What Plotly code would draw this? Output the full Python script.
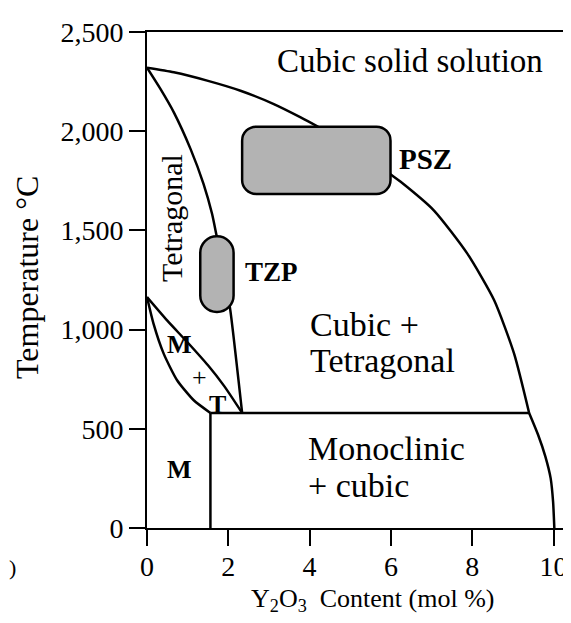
import plotly.graph_objects as go

# Y2O3 content (mol %) and temperature (deg C)
cubic_x = [0, 0.66, 1.48, 2.30, 3.12, 3.78, 4.19, 5.2, 6.03, 6.24, 7.06, 7.88, 8.54, 9.03, 9.40]
cubic_T = [2320, 2297, 2255, 2204, 2137, 2070, 2025, 1910, 1777, 1745, 1600, 1383, 1148, 879, 580]
cubic_low_x = [9.40, 9.62, 9.80, 9.93, 9.99, 10.02]
cubic_low_T = [580, 470, 360, 250, 130, 0]

tetra_x = [0, 0.33, 0.66, 1.07, 1.39, 1.60, 1.71, 1.90, 2.05, 2.34]
tetra_T = [2320, 2213, 2095, 1911, 1735, 1584, 1475, 1280, 1097, 580]

lens_up_x = [0, 0.5, 1.0, 1.5, 1.9, 2.34]
lens_up_T = [1164, 1045, 935, 820, 715, 580]
lens_low_x = [0, 0.16, 0.41, 0.74, 1.15, 1.56]
lens_low_T = [1164, 1030, 879, 745, 644, 580]

eutectoid_x = [1.56, 9.40]
eutectoid_T = [580, 580]
mono_x = [1.56, 1.56]
mono_T = [0, 580]

# ceramic regions (x span, temperature span)
psz_x = [2.34, 5.99]
psz_T = [1684, 2023]
tzp_x = [1.31, 2.13]
tzp_T = [1089, 1470]

x_ticks = [0, 2, 4, 6, 8, 10]
y_ticks = [0, 500, 1000, 1500, 2000, 2500]

# page has an 8px body margin, so the figure is drawn 8px in from the corner
OFF = 8
W, H = 571 - OFF, 623 - OFF
L, R, T, B = 147 - OFF, 0, 32 - OFF, 95
X_MAX = 10.43
PX_X = (W - L - R) / X_MAX
PX_Y = (H - T - B) / 2500

FONT = "Liberation Serif"


def page_to_paper(px, py):
    return (px - OFF - L) / (W - L - R), (H - B - (py - OFF)) / (H - T - B)


def rounded_box(xs, ys, r_px):
    x0, x1 = xs
    y0, y1 = ys
    rx, ry = r_px / PX_X, r_px / PX_Y
    k = 0.5523
    return (
        f"M {x0+rx},{y0} L {x1-rx},{y0} "
        f"C {x1-rx+k*rx},{y0} {x1},{y0+ry-k*ry} {x1},{y0+ry} "
        f"L {x1},{y1-ry} "
        f"C {x1},{y1-ry+k*ry} {x1-rx+k*rx},{y1} {x1-rx},{y1} "
        f"L {x0+rx},{y1} "
        f"C {x0+rx-k*rx},{y1} {x0},{y1-ry+k*ry} {x0},{y1-ry} "
        f"L {x0},{y0+ry} "
        f"C {x0},{y0+ry-k*ry} {x0+rx-k*rx},{y0} {x0+rx},{y0} Z"
    )


fig = go.Figure()

for xs, ys, shp in [
    (cubic_x, cubic_T, "spline"),
    (cubic_low_x, cubic_low_T, "spline"),
    (tetra_x, tetra_T, "spline"),
    (lens_up_x, lens_up_T, "spline"),
    (lens_low_x, lens_low_T, "spline"),
    (eutectoid_x, eutectoid_T, "linear"),
    (mono_x, mono_T, "linear"),
]:
    fig.add_trace(go.Scatter(x=xs, y=ys, mode="lines",
                             line=dict(color="black", width=2.5, shape=shp, smoothing=0.6),
                             hoverinfo="skip", showlegend=False))

for xs, ys, r in [(psz_x, psz_T, 14), (tzp_x, tzp_T, 16.5)]:
    fig.add_shape(type="path", path=rounded_box(xs, ys, r), xref="x", yref="y",
                  fillcolor="#b3b3b3", line=dict(color="black", width=2.5), layer="above")


def label(text, x, y, size=30, xanchor="left", angle=0):
    fig.add_annotation(text=text, x=x, y=y, xref="x", yref="y", showarrow=False,
                       xanchor=xanchor, yanchor="middle", textangle=angle,
                       font=dict(family=FONT, size=size, color="black"))


label("Cubic solid solution", 6.46, 2352, 33, "center")
label("<b>PSZ</b>", 6.16, 1862, 29)
label("<b>TZP</b>", 2.35, 1288, 27)
label("Tetragonal", 0.60, 1565, 30, "center", -90)
label("Cubic +", 3.97, 1027, 34)
label("Tetragonal", 3.97, 845, 34)
label("Monoclinic", 3.90, 403, 34)
label("+ cubic", 3.90, 216, 34)
label("<b>M</b>", 0.80, 926, 26, "center")
label("+", 1.29, 757, 26, "center")
label("<b>T</b>", 1.74, 624, 26, "center")
label("<b>M</b>", 0.80, 297, 26, "center")

tx, ty = page_to_paper(27, 278)
fig.add_annotation(text="Temperature &deg;C", xref="paper", yref="paper", x=tx, y=ty,
                   xanchor="center", yanchor="middle", textangle=-90, showarrow=False,
                   font=dict(family=FONT, size=32, color="black"))
tx, ty = page_to_paper(373, 600)
fig.add_annotation(text="Y<sub>2</sub>O<sub>3</sub>&nbsp;&nbsp;Content (mol %)",
                   xref="paper", yref="paper", x=tx, y=ty,
                   xanchor="center", yanchor="middle", showarrow=False,
                   font=dict(family=FONT, size=26, color="black"))
# sliver of a tick label cut off at the left edge of the original
tx, ty = page_to_paper(12, 567)
fig.add_annotation(text=")", xref="paper", yref="paper", x=tx, y=ty,
                   xanchor="center", yanchor="middle", showarrow=False,
                   font=dict(family=FONT, size=22, color="black"))

fig.update_layout(
    width=W, height=H,
    margin=dict(l=L, r=R, t=T, b=B),
    paper_bgcolor="white", plot_bgcolor="white",
    font=dict(family=FONT, color="black"),
    showlegend=False,
)
fig.update_xaxes(range=[0, X_MAX], tickvals=x_ticks, mirror=True, ticklabelstandoff=-4)
fig.update_yaxes(range=[0, 2500], tickvals=y_ticks, tickformat=",")
fig.update_xaxes(showgrid=False, zeroline=False, showline=True, linecolor="black",
                 linewidth=2, ticks="outside", ticklen=16, tickwidth=2, tickcolor="black",
                 tickfont=dict(family=FONT, size=28, color="black"))
fig.update_yaxes(showgrid=False, zeroline=False, showline=True, linecolor="black",
                 linewidth=2, ticks="outside", ticklen=16, tickwidth=2, tickcolor="black",
                 tickfont=dict(family=FONT, size=28, color="black"))

fig.write_html("out.html")
